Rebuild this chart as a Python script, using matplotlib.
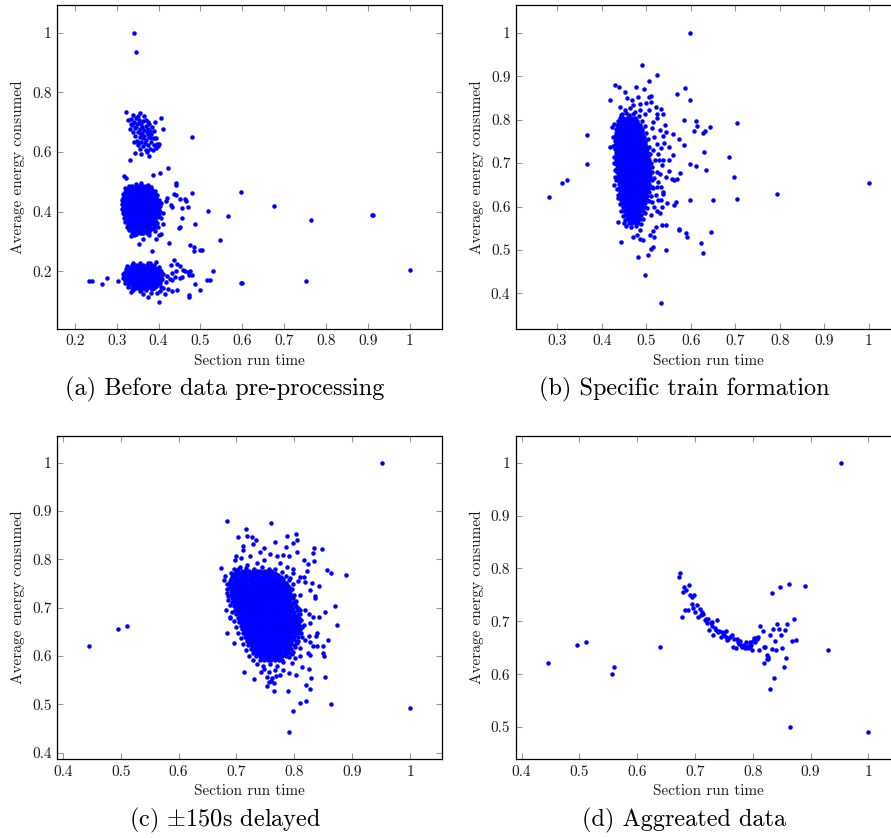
import matplotlib
matplotlib.use("Agg")
import matplotlib.pyplot as plt
from matplotlib.ticker import FixedLocator, FuncFormatter

plt.rcParams['font.family'] = 'cmr10'
plt.rcParams['mathtext.fontset'] = 'cm'
plt.rcParams['axes.unicode_minus'] = False

# (section run time, average energy consumed) -- normalised values

# (a) before data pre-processing: scattered points
pts_a = [
    (0.341, 1.000), (0.347, 0.935), (0.480, 0.650),
    # upper cluster
    (0.323, 0.733), (0.340, 0.726), (0.350, 0.722), (0.356, 0.731), (0.365, 0.720),
    (0.347, 0.713), (0.334, 0.711), (0.326, 0.706), (0.342, 0.702), (0.353, 0.706),
    (0.363, 0.704), (0.375, 0.700), (0.391, 0.702), (0.406, 0.713), (0.337, 0.691),
    (0.348, 0.693), (0.359, 0.695), (0.369, 0.688), (0.378, 0.693), (0.385, 0.684),
    (0.332, 0.679), (0.343, 0.682), (0.355, 0.679), (0.366, 0.675), (0.375, 0.677),
    (0.388, 0.670), (0.410, 0.679), (0.339, 0.666), (0.350, 0.668), (0.361, 0.664),
    (0.372, 0.666), (0.383, 0.662), (0.390, 0.648), (0.343, 0.653), (0.355, 0.650),
    (0.366, 0.653), (0.377, 0.650), (0.394, 0.646), (0.348, 0.637), (0.359, 0.635),
    (0.371, 0.639), (0.382, 0.635), (0.351, 0.624), (0.364, 0.621), (0.375, 0.624),
    (0.388, 0.624), (0.402, 0.626), (0.356, 0.610), (0.369, 0.608), (0.380, 0.612),
    (0.393, 0.615), (0.359, 0.595), (0.372, 0.599), (0.377, 0.588), (0.350, 0.630),
    (0.367, 0.630), (0.383, 0.648), (0.342, 0.635), (0.358, 0.659), (0.374, 0.659),
    (0.335, 0.695), (0.347, 0.684), (0.353, 0.697), (0.361, 0.684), (0.370, 0.706),
    (0.380, 0.670), (0.396, 0.626), (0.363, 0.646), (0.386, 0.608), (0.343, 0.597),
    (0.331, 0.572), (0.398, 0.619),
    # middle cluster fringe
    (0.423, 0.548), (0.403, 0.531), (0.386, 0.523), (0.318, 0.521), (0.321, 0.512),
    (0.441, 0.496), (0.441, 0.489), (0.480, 0.463), (0.597, 0.466), (0.436, 0.458),
    (0.441, 0.456), (0.452, 0.443), (0.463, 0.443), (0.421, 0.445), (0.407, 0.428),
    (0.417, 0.435), (0.429, 0.424), (0.433, 0.417), (0.457, 0.411), (0.471, 0.415),
    (0.465, 0.436), (0.519, 0.402), (0.567, 0.387), (0.411, 0.395), (0.406, 0.378),
    (0.411, 0.359), (0.399, 0.350), (0.457, 0.380), (0.452, 0.348), (0.449, 0.345),
    (0.488, 0.358), (0.547, 0.305), (0.407, 0.327), (0.401, 0.321), (0.393, 0.308),
    (0.378, 0.322), (0.364, 0.308), (0.353, 0.291), (0.385, 0.268), (0.425, 0.294),
    (0.476, 0.289), (0.484, 0.283), (0.485, 0.268), (0.503, 0.272), (0.335, 0.319),
    (0.342, 0.323), (0.347, 0.325), (0.391, 0.336), (0.396, 0.361), (0.388, 0.344),
    (0.312, 0.440), (0.313, 0.425), (0.313, 0.410), (0.316, 0.395), (0.318, 0.380),
    (0.320, 0.366), (0.324, 0.350), (0.329, 0.338), (0.345, 0.325), (0.360, 0.330),
    (0.378, 0.333), (0.388, 0.348), (0.395, 0.366), (0.400, 0.385), (0.403, 0.400),
    (0.404, 0.420), (0.401, 0.440), (0.397, 0.455), (0.392, 0.470), (0.383, 0.482),
    (0.375, 0.490), (0.358, 0.495), (0.345, 0.494), (0.330, 0.485), (0.320, 0.478),
    (0.676, 0.420), (0.765, 0.373), (0.909, 0.389), (0.912, 0.389), (1.000, 0.206),
    (0.752, 0.168), (0.597, 0.161), (0.599, 0.160), (0.500, 0.271),
    # lower cluster fringe
    (0.234, 0.168), (0.241, 0.169), (0.264, 0.158), (0.276, 0.179), (0.302, 0.168),
    (0.334, 0.132), (0.359, 0.138), (0.374, 0.113), (0.401, 0.097), (0.363, 0.124),
    (0.383, 0.126), (0.394, 0.231), (0.380, 0.229), (0.436, 0.237), (0.443, 0.225),
    (0.452, 0.218), (0.429, 0.220), (0.433, 0.196), (0.441, 0.202), (0.459, 0.205),
    (0.464, 0.202), (0.471, 0.198), (0.476, 0.200), (0.479, 0.189), (0.472, 0.187),
    (0.457, 0.180), (0.451, 0.178), (0.439, 0.180), (0.433, 0.171), (0.428, 0.176),
    (0.420, 0.185), (0.417, 0.166), (0.407, 0.149), (0.411, 0.143), (0.423, 0.140),
    (0.431, 0.135), (0.444, 0.138), (0.472, 0.122), (0.472, 0.115), (0.488, 0.158),
    (0.500, 0.138), (0.515, 0.171), (0.523, 0.171), (0.530, 0.202), (0.404, 0.135),
    (0.396, 0.126), (0.415, 0.124),
    (0.316, 0.190), (0.316, 0.178), (0.319, 0.162), (0.326, 0.148), (0.340, 0.138),
    (0.355, 0.135), (0.370, 0.137), (0.385, 0.140), (0.395, 0.150), (0.403, 0.160),
    (0.409, 0.175), (0.411, 0.190), (0.407, 0.203), (0.400, 0.215), (0.390, 0.222),
    (0.375, 0.228), (0.355, 0.229), (0.340, 0.228), (0.325, 0.218),
]

# (a) dense cores: (energy, [run times])
core_a = [
    (0.485, [0.336, 0.345, 0.354, 0.363, 0.370]),
    (0.478, [0.327, 0.336, 0.345, 0.354, 0.363, 0.372, 0.380]),
    (0.472, [0.322, 0.331, 0.340, 0.349, 0.358, 0.367, 0.376, 0.385]),
    (0.465, [0.320, 0.329, 0.338, 0.347, 0.356, 0.365, 0.374, 0.383, 0.388]),
    (0.459, [0.316, 0.325, 0.334, 0.343, 0.352, 0.361, 0.370, 0.379, 0.388, 0.392]),
    (0.452, [0.317, 0.326, 0.335, 0.344, 0.353, 0.362, 0.371, 0.380, 0.389]),
    (0.446, [0.314, 0.322, 0.331, 0.340, 0.349, 0.358, 0.367, 0.376, 0.385, 0.394]),
    (0.439, [0.318, 0.327, 0.336, 0.345, 0.354, 0.363, 0.372, 0.381, 0.390, 0.396]),
    (0.433, [0.314, 0.323, 0.332, 0.341, 0.350, 0.359, 0.368, 0.377, 0.386, 0.395, 0.398]),
    (0.426, [0.319, 0.328, 0.337, 0.346, 0.355, 0.364, 0.373, 0.382, 0.391, 0.398]),
    (0.420, [0.315, 0.324, 0.333, 0.342, 0.351, 0.360, 0.369, 0.378, 0.387, 0.396, 0.400]),
    (0.413, [0.320, 0.329, 0.338, 0.347, 0.356, 0.365, 0.374, 0.383, 0.392, 0.398]),
    (0.407, [0.316, 0.325, 0.334, 0.343, 0.352, 0.361, 0.370, 0.379, 0.388, 0.397, 0.400]),
    (0.400, [0.321, 0.330, 0.339, 0.348, 0.357, 0.366, 0.375, 0.384, 0.393, 0.398]),
    (0.394, [0.318, 0.327, 0.336, 0.345, 0.354, 0.363, 0.372, 0.381, 0.390, 0.398]),
    (0.387, [0.323, 0.332, 0.341, 0.350, 0.359, 0.368, 0.377, 0.386, 0.394]),
    (0.381, [0.320, 0.329, 0.338, 0.347, 0.356, 0.365, 0.374, 0.383, 0.392, 0.396]),
    (0.374, [0.326, 0.335, 0.344, 0.353, 0.362, 0.371, 0.380, 0.389]),
    (0.368, [0.323, 0.332, 0.341, 0.350, 0.359, 0.368, 0.377, 0.386, 0.392]),
    (0.361, [0.329, 0.338, 0.347, 0.356, 0.365, 0.374, 0.383, 0.388]),
    (0.355, [0.326, 0.335, 0.344, 0.353, 0.362, 0.371, 0.380, 0.388]),
    (0.348, [0.333, 0.342, 0.351, 0.360, 0.369, 0.378]),
    (0.342, [0.330, 0.339, 0.348, 0.357, 0.366, 0.375, 0.382]),
    (0.336, [0.340, 0.349, 0.358, 0.367, 0.375]),
    (0.330, [0.337, 0.346, 0.355, 0.364, 0.372]),
    (0.222, [0.336, 0.345, 0.354, 0.363, 0.372, 0.381]),
    (0.215, [0.328, 0.337, 0.346, 0.355, 0.364, 0.373, 0.382, 0.390]),
    (0.209, [0.322, 0.331, 0.340, 0.349, 0.358, 0.367, 0.376, 0.385, 0.394, 0.400]),
    (0.202, [0.322, 0.331, 0.340, 0.349, 0.358, 0.367, 0.376, 0.385, 0.394, 0.402]),
    (0.196, [0.318, 0.327, 0.336, 0.345, 0.354, 0.363, 0.372, 0.381, 0.390, 0.399, 0.405]),
    (0.189, [0.322, 0.331, 0.340, 0.349, 0.358, 0.367, 0.376, 0.385, 0.394, 0.403]),
    (0.183, [0.318, 0.326, 0.335, 0.344, 0.353, 0.362, 0.371, 0.380, 0.389, 0.398, 0.407]),
    (0.176, [0.324, 0.333, 0.342, 0.351, 0.360, 0.369, 0.378, 0.387, 0.396, 0.403]),
    (0.170, [0.320, 0.329, 0.338, 0.347, 0.356, 0.365, 0.374, 0.383, 0.392, 0.401, 0.405]),
    (0.163, [0.330, 0.339, 0.348, 0.357, 0.366, 0.375, 0.384, 0.393, 0.400]),
    (0.157, [0.326, 0.335, 0.344, 0.353, 0.362, 0.371, 0.380, 0.389, 0.398]),
    (0.150, [0.340, 0.349, 0.358, 0.367, 0.376, 0.385, 0.393]),
    (0.144, [0.336, 0.345, 0.354, 0.363, 0.372, 0.381, 0.389]),
]

# (b) specific train formation
pts_b = [
    (0.490, 0.925), (0.525, 0.903), (0.430, 0.880), (0.438, 0.876), (0.477, 0.875),
    (0.495, 0.871), (0.506, 0.889), (0.570, 0.858), (0.419, 0.846), (0.451, 0.864),
    (0.456, 0.850), (0.467, 0.845), (0.482, 0.853), (0.505, 0.853), (0.510, 0.854),
    (0.499, 0.839), (0.511, 0.840), (0.522, 0.830), (0.533, 0.824), (0.486, 0.837),
    (0.523, 0.814), (0.538, 0.812), (0.524, 0.803), (0.541, 0.787), (0.531, 0.776),
    (0.544, 0.771), (0.559, 0.768), (0.537, 0.762), (0.540, 0.747), (0.550, 0.736),
    (0.559, 0.718), (0.574, 0.755), (0.550, 0.707), (0.538, 0.707), (0.535, 0.695),
    (0.550, 0.682), (0.557, 0.664), (0.562, 0.661), (0.544, 0.669), (0.534, 0.646),
    (0.538, 0.634), (0.537, 0.629), (0.534, 0.615), (0.546, 0.607), (0.536, 0.599),
    (0.523, 0.590), (0.531, 0.586), (0.535, 0.557), (0.544, 0.557), (0.510, 0.580),
    (0.522, 0.553), (0.516, 0.543), (0.508, 0.534), (0.517, 0.530), (0.486, 0.546),
    (0.478, 0.534), (0.469, 0.530), (0.486, 0.525), (0.493, 0.523), (0.443, 0.519),
    (0.481, 0.483), (0.503, 0.488), (0.510, 0.503), (0.516, 0.507), (0.544, 0.500),
    (0.496, 0.442), (0.533, 0.379), (0.418, 0.736), (0.423, 0.784), (0.429, 0.669),
    (0.428, 0.649), (0.437, 0.627), (0.436, 0.565), (0.450, 0.562), (0.367, 0.764),
    (0.367, 0.698), (0.311, 0.655), (0.321, 0.662), (0.281, 0.622), (0.568, 0.663),
    (0.562, 0.604), (0.567, 0.611), (0.573, 0.548), (0.576, 0.678),
    (0.512, 0.780), (0.517, 0.761), (0.523, 0.745), (0.514, 0.730), (0.527, 0.722),
    (0.520, 0.707), (0.512, 0.691), (0.523, 0.680), (0.517, 0.665), (0.527, 0.657),
    (0.514, 0.642), (0.522, 0.626), (0.512, 0.611), (0.517, 0.599), (0.527, 0.615),
    (0.523, 0.646), (0.531, 0.676), (0.529, 0.707), (0.533, 0.734), (0.516, 0.795),
    (0.441, 0.830), (0.452, 0.822), (0.463, 0.826), (0.475, 0.818), (0.486, 0.822),
    (0.497, 0.814), (0.460, 0.810), (0.471, 0.833), (0.445, 0.814), (0.505, 0.822),
    (0.427, 0.790), (0.426, 0.760), (0.425, 0.740), (0.427, 0.715), (0.428, 0.700),
    (0.429, 0.685), (0.432, 0.660), (0.434, 0.640), (0.437, 0.620), (0.440, 0.605),
    (0.444, 0.590), (0.447, 0.578), (0.451, 0.568), (0.455, 0.556), (0.466, 0.553),
    (0.476, 0.556), (0.488, 0.560), (0.492, 0.572), (0.497, 0.585), (0.502, 0.596),
    (0.506, 0.612), (0.510, 0.625), (0.512, 0.645), (0.513, 0.660), (0.513, 0.680),
    (0.511, 0.700), (0.509, 0.720), (0.506, 0.738), (0.503, 0.755), (0.500, 0.770),
    (0.496, 0.785), (0.490, 0.798), (0.483, 0.808), (0.470, 0.814), (0.455, 0.815),
    (0.444, 0.810),
    (0.599, 1.000), (0.588, 0.873), (0.598, 0.846), (0.584, 0.800), (0.611, 0.797),
    (0.613, 0.786), (0.608, 0.775), (0.643, 0.784), (0.632, 0.774), (0.627, 0.769),
    (0.704, 0.792), (0.585, 0.741), (0.630, 0.725), (0.686, 0.713), (0.598, 0.699),
    (0.611, 0.694), (0.634, 0.685), (0.697, 0.667), (0.793, 0.628), (1.000, 0.655),
    (0.704, 0.617), (0.598, 0.615), (0.649, 0.615), (0.574, 0.547), (0.589, 0.540),
    (0.591, 0.529), (0.645, 0.541), (0.622, 0.516), (0.628, 0.492),
]

core_b = [
    (0.805, [0.440, 0.448, 0.457, 0.465, 0.474]),
    (0.800, [0.441, 0.450, 0.458, 0.467, 0.476]),
    (0.796, [0.437, 0.445, 0.454, 0.462, 0.471, 0.480]),
    (0.791, [0.438, 0.447, 0.455, 0.464, 0.472, 0.481]),
    (0.787, [0.434, 0.442, 0.451, 0.459, 0.468, 0.476, 0.485]),
    (0.782, [0.436, 0.444, 0.453, 0.461, 0.470, 0.479, 0.486]),
    (0.778, [0.432, 0.440, 0.449, 0.457, 0.466, 0.474, 0.483, 0.490]),
    (0.773, [0.434, 0.443, 0.451, 0.460, 0.468, 0.477, 0.485, 0.490]),
    (0.769, [0.431, 0.439, 0.447, 0.456, 0.464, 0.473, 0.481, 0.490]),
    (0.764, [0.433, 0.442, 0.450, 0.459, 0.467, 0.476, 0.484, 0.491]),
    (0.760, [0.430, 0.438, 0.446, 0.455, 0.463, 0.472, 0.480, 0.489, 0.495]),
    (0.755, [0.433, 0.441, 0.450, 0.458, 0.467, 0.475, 0.484, 0.492]),
    (0.751, [0.430, 0.437, 0.445, 0.454, 0.462, 0.471, 0.479, 0.488, 0.496]),
    (0.746, [0.433, 0.441, 0.450, 0.458, 0.467, 0.475, 0.484, 0.492, 0.496]),
    (0.742, [0.430, 0.438, 0.447, 0.455, 0.464, 0.472, 0.481, 0.489, 0.498]),
    (0.737, [0.433, 0.442, 0.450, 0.459, 0.467, 0.476, 0.484, 0.493, 0.499]),
    (0.733, [0.430, 0.437, 0.446, 0.454, 0.463, 0.471, 0.480, 0.488, 0.497, 0.501]),
    (0.728, [0.434, 0.443, 0.451, 0.460, 0.468, 0.477, 0.485, 0.494, 0.500]),
    (0.724, [0.431, 0.439, 0.448, 0.456, 0.465, 0.473, 0.482, 0.490, 0.499, 0.503]),
    (0.719, [0.434, 0.443, 0.451, 0.460, 0.468, 0.477, 0.485, 0.494, 0.501]),
    (0.715, [0.431, 0.438, 0.447, 0.455, 0.464, 0.472, 0.481, 0.489, 0.498, 0.504]),
    (0.710, [0.435, 0.444, 0.452, 0.461, 0.469, 0.478, 0.486, 0.495, 0.502]),
    (0.706, [0.432, 0.440, 0.449, 0.457, 0.466, 0.474, 0.483, 0.491, 0.500, 0.505]),
    (0.701, [0.436, 0.445, 0.453, 0.462, 0.470, 0.479, 0.487, 0.496, 0.503]),
    (0.697, [0.433, 0.441, 0.450, 0.458, 0.467, 0.475, 0.484, 0.492, 0.501, 0.506]),
    (0.692, [0.437, 0.446, 0.454, 0.463, 0.471, 0.480, 0.488, 0.497, 0.504]),
    (0.688, [0.434, 0.442, 0.451, 0.459, 0.468, 0.476, 0.485, 0.493, 0.502, 0.507]),
    (0.683, [0.438, 0.447, 0.455, 0.464, 0.472, 0.481, 0.489, 0.498, 0.505]),
    (0.679, [0.435, 0.443, 0.452, 0.460, 0.469, 0.477, 0.486, 0.494, 0.503, 0.508]),
    (0.674, [0.439, 0.448, 0.456, 0.465, 0.473, 0.482, 0.490, 0.499, 0.505]),
    (0.670, [0.436, 0.444, 0.453, 0.461, 0.470, 0.478, 0.487, 0.495, 0.504, 0.508]),
    (0.665, [0.440, 0.449, 0.457, 0.466, 0.474, 0.483, 0.491, 0.500, 0.505]),
    (0.661, [0.437, 0.445, 0.454, 0.462, 0.471, 0.479, 0.488, 0.496, 0.505]),
    (0.656, [0.441, 0.450, 0.458, 0.467, 0.475, 0.484, 0.492, 0.501]),
    (0.652, [0.438, 0.446, 0.455, 0.463, 0.472, 0.480, 0.489, 0.497, 0.506]),
    (0.647, [0.442, 0.451, 0.459, 0.468, 0.476, 0.485, 0.493, 0.501]),
    (0.643, [0.439, 0.447, 0.456, 0.464, 0.473, 0.481, 0.490, 0.498, 0.506]),
    (0.638, [0.443, 0.452, 0.460, 0.469, 0.477, 0.486, 0.494, 0.501]),
    (0.634, [0.440, 0.448, 0.457, 0.465, 0.474, 0.482, 0.491, 0.499, 0.505]),
    (0.629, [0.445, 0.454, 0.462, 0.471, 0.479, 0.488, 0.496]),
    (0.625, [0.442, 0.450, 0.459, 0.467, 0.476, 0.484, 0.493, 0.501]),
    (0.620, [0.447, 0.456, 0.464, 0.473, 0.481, 0.490, 0.497]),
    (0.616, [0.444, 0.452, 0.461, 0.469, 0.478, 0.486, 0.495, 0.501]),
    (0.611, [0.449, 0.458, 0.466, 0.475, 0.483, 0.492]),
    (0.607, [0.446, 0.454, 0.463, 0.471, 0.480, 0.488, 0.497]),
    (0.602, [0.451, 0.460, 0.468, 0.477, 0.485, 0.492]),
    (0.598, [0.448, 0.456, 0.465, 0.473, 0.482, 0.490, 0.496]),
    (0.593, [0.453, 0.462, 0.470, 0.479, 0.488]),
    (0.589, [0.450, 0.458, 0.467, 0.475, 0.484, 0.493]),
    (0.584, [0.456, 0.465, 0.473, 0.482]),
    (0.580, [0.453, 0.461, 0.470, 0.478, 0.487]),
    (0.575, [0.459, 0.468, 0.476, 0.483]),
    (0.571, [0.456, 0.464, 0.473, 0.481, 0.486]),
    (0.566, [0.463, 0.472, 0.479]),
    (0.562, [0.460, 0.468, 0.476, 0.482]),
]

# (c) +-150 s delayed
pts_c = [
    (0.446, 0.621), (0.496, 0.655), (0.511, 0.661), (0.952, 1.000), (1.000, 0.492),
    (0.684, 0.879), (0.717, 0.863), (0.760, 0.875), (0.702, 0.846), (0.719, 0.849),
    (0.727, 0.846), (0.734, 0.840), (0.788, 0.848), (0.803, 0.852), (0.805, 0.839),
    (0.767, 0.836), (0.711, 0.828), (0.729, 0.831), (0.747, 0.824), (0.786, 0.825),
    (0.797, 0.833), (0.834, 0.824), (0.847, 0.822), (0.804, 0.816), (0.780, 0.810),
    (0.790, 0.806), (0.816, 0.799), (0.833, 0.814), (0.834, 0.797), (0.673, 0.783),
    (0.680, 0.766), (0.679, 0.757), (0.699, 0.807), (0.698, 0.799), (0.708, 0.802),
    (0.856, 0.777), (0.863, 0.771), (0.890, 0.767), (0.824, 0.790), (0.822, 0.775),
    (0.816, 0.764), (0.810, 0.763), (0.807, 0.755), (0.819, 0.754), (0.830, 0.752),
    (0.827, 0.737), (0.843, 0.745), (0.836, 0.724), (0.835, 0.719), (0.809, 0.726),
    (0.870, 0.703), (0.853, 0.690), (0.842, 0.680), (0.833, 0.681), (0.825, 0.686),
    (0.827, 0.668), (0.839, 0.647), (0.838, 0.641), (0.826, 0.641), (0.818, 0.632),
    (0.827, 0.628), (0.833, 0.621), (0.839, 0.621), (0.850, 0.621), (0.858, 0.632),
    (0.849, 0.607), (0.851, 0.599), (0.824, 0.606), (0.827, 0.602), (0.810, 0.599),
    (0.801, 0.595), (0.796, 0.585), (0.813, 0.578), (0.825, 0.574), (0.802, 0.561),
    (0.790, 0.564), (0.781, 0.571), (0.775, 0.561), (0.769, 0.559), (0.760, 0.549),
    (0.764, 0.543), (0.756, 0.546), (0.752, 0.537), (0.765, 0.528), (0.789, 0.528),
    (0.820, 0.539), (0.827, 0.531), (0.853, 0.557), (0.828, 0.554), (0.731, 0.552),
    (0.713, 0.566), (0.695, 0.626), (0.684, 0.648), (0.874, 0.665), (0.798, 0.487),
    (0.809, 0.503), (0.820, 0.507), (0.864, 0.501), (0.790, 0.442), (0.689, 0.743),
    (0.683, 0.730), (0.686, 0.716), (0.688, 0.681), (0.689, 0.678), (0.682, 0.695),
    (0.712, 0.819), (0.741, 0.816), (0.758, 0.812), (0.770, 0.806), (0.724, 0.806),
    (0.747, 0.799), (0.735, 0.792), (0.775, 0.792), (0.787, 0.785), (0.798, 0.781),
    (0.718, 0.788), (0.706, 0.785), (0.798, 0.771), (0.793, 0.761),
    (0.801, 0.709), (0.810, 0.695), (0.805, 0.675), (0.816, 0.664), (0.807, 0.654),
    (0.813, 0.640), (0.804, 0.626), (0.810, 0.616), (0.798, 0.609), (0.819, 0.695),
    (0.695, 0.781), (0.703, 0.779), (0.716, 0.782), (0.731, 0.780), (0.744, 0.784),
    (0.756, 0.779), (0.766, 0.781), (0.690, 0.772), (0.778, 0.773), (0.785, 0.765),
    (0.791, 0.757), (0.797, 0.748), (0.683, 0.748), (0.684, 0.739), (0.686, 0.724),
    (0.688, 0.706), (0.692, 0.690), (0.696, 0.672), (0.700, 0.660), (0.703, 0.648),
    (0.707, 0.637), (0.711, 0.624), (0.716, 0.612), (0.722, 0.600), (0.728, 0.592),
    (0.736, 0.584), (0.746, 0.580), (0.758, 0.583), (0.770, 0.580), (0.781, 0.587),
    (0.790, 0.597), (0.796, 0.603), (0.801, 0.618), (0.806, 0.630), (0.811, 0.647),
    (0.813, 0.660), (0.812, 0.675), (0.809, 0.686), (0.806, 0.700), (0.803, 0.713),
    (0.799, 0.726), (0.796, 0.738), (0.748, 0.572), (0.757, 0.567), (0.766, 0.571),
    (0.752, 0.557), (0.761, 0.555), (0.742, 0.566),
]

core_c = [
    (0.775, [0.701, 0.709, 0.714, 0.722, 0.728, 0.735, 0.741, 0.748, 0.753, 0.760]),
    (0.771, [0.697, 0.704, 0.710, 0.717, 0.723, 0.730, 0.736, 0.743, 0.749, 0.756, 0.762, 0.767]),
    (0.767, [0.694, 0.699, 0.706, 0.713, 0.719, 0.725, 0.732, 0.738, 0.745, 0.751, 0.758, 0.764, 0.771]),
    (0.763, [0.692, 0.700, 0.707, 0.713, 0.719, 0.726, 0.732, 0.739, 0.745, 0.752, 0.758, 0.764, 0.771, 0.777]),
    (0.759, [0.690, 0.697, 0.703, 0.710, 0.716, 0.722, 0.729, 0.735, 0.742, 0.748, 0.755, 0.761, 0.767, 0.774, 0.780]),
    (0.755, [0.689, 0.697, 0.704, 0.710, 0.717, 0.723, 0.729, 0.736, 0.742, 0.749, 0.755, 0.761, 0.768, 0.774, 0.781]),
    (0.751, [0.688, 0.694, 0.700, 0.707, 0.713, 0.719, 0.726, 0.732, 0.739, 0.745, 0.751, 0.758, 0.764, 0.771, 0.778, 0.785]),
    (0.747, [0.691, 0.697, 0.704, 0.710, 0.717, 0.723, 0.730, 0.736, 0.743, 0.749, 0.755, 0.762, 0.768, 0.775, 0.781, 0.787]),
    (0.743, [0.688, 0.695, 0.702, 0.708, 0.714, 0.721, 0.727, 0.734, 0.740, 0.746, 0.753, 0.759, 0.766, 0.772, 0.779, 0.785, 0.790]),
    (0.739, [0.692, 0.699, 0.705, 0.712, 0.718, 0.724, 0.731, 0.737, 0.744, 0.750, 0.757, 0.763, 0.769, 0.776, 0.782, 0.789]),
    (0.735, [0.690, 0.697, 0.703, 0.709, 0.716, 0.722, 0.729, 0.735, 0.741, 0.748, 0.754, 0.761, 0.767, 0.773, 0.780, 0.786, 0.792]),
    (0.731, [0.693, 0.699, 0.706, 0.712, 0.719, 0.725, 0.731, 0.738, 0.744, 0.751, 0.757, 0.763, 0.770, 0.776, 0.783, 0.790]),
    (0.727, [0.690, 0.696, 0.702, 0.709, 0.715, 0.722, 0.728, 0.734, 0.741, 0.747, 0.754, 0.760, 0.766, 0.773, 0.779, 0.786, 0.795]),
    (0.723, [0.694, 0.701, 0.707, 0.714, 0.720, 0.727, 0.733, 0.740, 0.746, 0.752, 0.759, 0.765, 0.772, 0.778, 0.784, 0.791]),
    (0.719, [0.692, 0.698, 0.705, 0.711, 0.717, 0.724, 0.730, 0.737, 0.743, 0.749, 0.756, 0.762, 0.769, 0.775, 0.781, 0.788, 0.797]),
    (0.715, [0.695, 0.702, 0.708, 0.715, 0.721, 0.728, 0.734, 0.740, 0.747, 0.753, 0.760, 0.766, 0.773, 0.779, 0.786, 0.793]),
    (0.711, [0.693, 0.700, 0.706, 0.712, 0.719, 0.725, 0.732, 0.738, 0.744, 0.751, 0.757, 0.764, 0.770, 0.776, 0.783, 0.790, 0.800]),
    (0.707, [0.697, 0.704, 0.710, 0.717, 0.723, 0.729, 0.736, 0.742, 0.749, 0.755, 0.762, 0.768, 0.774, 0.781, 0.788, 0.796]),
    (0.703, [0.695, 0.702, 0.708, 0.714, 0.721, 0.727, 0.733, 0.740, 0.746, 0.753, 0.759, 0.765, 0.772, 0.778, 0.785, 0.792, 0.802]),
    (0.699, [0.699, 0.706, 0.712, 0.718, 0.725, 0.731, 0.738, 0.744, 0.750, 0.757, 0.763, 0.770, 0.776, 0.782, 0.789, 0.798]),
    (0.695, [0.697, 0.703, 0.710, 0.716, 0.723, 0.729, 0.735, 0.742, 0.748, 0.754, 0.761, 0.767, 0.774, 0.780, 0.787, 0.795, 0.805]),
    (0.691, [0.701, 0.708, 0.714, 0.721, 0.727, 0.734, 0.740, 0.746, 0.753, 0.759, 0.766, 0.772, 0.778, 0.785, 0.792, 0.800]),
    (0.687, [0.700, 0.706, 0.712, 0.719, 0.725, 0.731, 0.738, 0.744, 0.751, 0.757, 0.763, 0.770, 0.776, 0.783, 0.789, 0.797, 0.806]),
    (0.683, [0.704, 0.710, 0.717, 0.723, 0.729, 0.736, 0.742, 0.749, 0.755, 0.761, 0.768, 0.774, 0.781, 0.787, 0.794, 0.802]),
    (0.679, [0.702, 0.709, 0.715, 0.721, 0.728, 0.734, 0.741, 0.747, 0.753, 0.760, 0.766, 0.773, 0.779, 0.785, 0.792, 0.800, 0.808]),
    (0.675, [0.706, 0.713, 0.719, 0.726, 0.732, 0.738, 0.745, 0.751, 0.758, 0.764, 0.771, 0.777, 0.783, 0.790, 0.797, 0.804]),
    (0.671, [0.705, 0.711, 0.718, 0.724, 0.731, 0.737, 0.743, 0.750, 0.756, 0.763, 0.769, 0.775, 0.782, 0.788, 0.795, 0.802, 0.808]),
    (0.667, [0.709, 0.716, 0.722, 0.728, 0.735, 0.741, 0.748, 0.754, 0.761, 0.767, 0.773, 0.780, 0.786, 0.793, 0.800, 0.806]),
    (0.663, [0.708, 0.714, 0.721, 0.727, 0.733, 0.740, 0.746, 0.752, 0.759, 0.765, 0.772, 0.778, 0.784, 0.791, 0.797, 0.804, 0.810]),
    (0.659, [0.712, 0.718, 0.725, 0.731, 0.738, 0.744, 0.751, 0.757, 0.763, 0.770, 0.776, 0.783, 0.789, 0.796, 0.802, 0.807]),
    (0.655, [0.710, 0.716, 0.723, 0.729, 0.736, 0.742, 0.748, 0.755, 0.761, 0.768, 0.774, 0.780, 0.787, 0.793, 0.800, 0.806, 0.810]),
    (0.651, [0.714, 0.721, 0.727, 0.733, 0.740, 0.746, 0.753, 0.759, 0.766, 0.772, 0.778, 0.785, 0.791, 0.798, 0.804]),
    (0.647, [0.712, 0.719, 0.725, 0.731, 0.738, 0.744, 0.751, 0.757, 0.763, 0.770, 0.776, 0.783, 0.789, 0.795, 0.802, 0.808]),
    (0.643, [0.717, 0.723, 0.730, 0.736, 0.742, 0.749, 0.755, 0.762, 0.768, 0.775, 0.781, 0.787, 0.794, 0.801]),
    (0.639, [0.715, 0.721, 0.728, 0.734, 0.741, 0.747, 0.753, 0.760, 0.766, 0.772, 0.779, 0.785, 0.792, 0.799, 0.806]),
    (0.635, [0.719, 0.726, 0.732, 0.739, 0.745, 0.752, 0.758, 0.764, 0.771, 0.777, 0.784, 0.790, 0.797]),
    (0.631, [0.718, 0.724, 0.731, 0.737, 0.743, 0.750, 0.756, 0.763, 0.769, 0.775, 0.782, 0.788, 0.795, 0.803]),
    (0.627, [0.722, 0.729, 0.735, 0.742, 0.748, 0.755, 0.761, 0.767, 0.774, 0.780, 0.787, 0.794]),
    (0.623, [0.720, 0.727, 0.733, 0.740, 0.746, 0.752, 0.759, 0.765, 0.772, 0.778, 0.785, 0.792, 0.800]),
    (0.619, [0.726, 0.733, 0.739, 0.746, 0.752, 0.759, 0.765, 0.772, 0.778, 0.784, 0.791]),
    (0.615, [0.725, 0.731, 0.738, 0.744, 0.750, 0.757, 0.763, 0.770, 0.776, 0.783, 0.789, 0.795]),
    (0.611, [0.730, 0.737, 0.743, 0.750, 0.756, 0.763, 0.769, 0.776, 0.782, 0.787]),
    (0.607, [0.728, 0.735, 0.741, 0.748, 0.754, 0.761, 0.767, 0.774, 0.780, 0.786, 0.790]),
    (0.603, [0.735, 0.742, 0.748, 0.755, 0.761, 0.768, 0.774, 0.780]),
    (0.599, [0.733, 0.740, 0.746, 0.753, 0.759, 0.766, 0.772, 0.779, 0.785]),
    (0.595, [0.742, 0.749, 0.756, 0.762, 0.768, 0.774]),
    (0.591, [0.740, 0.747, 0.754, 0.760, 0.767, 0.773, 0.778]),
]

# (d) aggregated data
pts_d = [
    (0.446, 0.622), (0.496, 0.655), (0.511, 0.661), (0.557, 0.600), (0.560, 0.614),
    (0.640, 0.651), (0.865, 0.500), (1.000, 0.491), (0.952, 1.000),
    (0.674, 0.792), (0.673, 0.784), (0.690, 0.769), (0.681, 0.765), (0.679, 0.756),
    (0.685, 0.759), (0.692, 0.750), (0.698, 0.749), (0.694, 0.746), (0.694, 0.733),
    (0.704, 0.731), (0.697, 0.726), (0.683, 0.722), (0.688, 0.722), (0.708, 0.724),
    (0.700, 0.718), (0.712, 0.717), (0.677, 0.708), (0.705, 0.708), (0.714, 0.713),
    (0.719, 0.705), (0.711, 0.711), (0.722, 0.705), (0.717, 0.702), (0.721, 0.696),
    (0.727, 0.697), (0.730, 0.699), (0.738, 0.702), (0.729, 0.691), (0.724, 0.683),
    (0.734, 0.687), (0.737, 0.683), (0.742, 0.682), (0.746, 0.680), (0.731, 0.675),
    (0.740, 0.679), (0.749, 0.677), (0.754, 0.682), (0.750, 0.674), (0.745, 0.670),
    (0.753, 0.671), (0.757, 0.667), (0.764, 0.674), (0.761, 0.670), (0.768, 0.667),
    (0.756, 0.664), (0.772, 0.666), (0.766, 0.652), (0.774, 0.660), (0.778, 0.663),
    (0.771, 0.650), (0.780, 0.655), (0.784, 0.656), (0.776, 0.658), (0.788, 0.660),
    (0.782, 0.652), (0.787, 0.650), (0.792, 0.653), (0.791, 0.650), (0.795, 0.652),
    (0.797, 0.655), (0.796, 0.660), (0.802, 0.668), (0.801, 0.662), (0.805, 0.669),
    (0.808, 0.666), (0.809, 0.671), (0.804, 0.661), (0.799, 0.646), (0.810, 0.645),
    (0.813, 0.691), (0.817, 0.682), (0.819, 0.652), (0.822, 0.651), (0.824, 0.636),
    (0.826, 0.632), (0.827, 0.629), (0.824, 0.628), (0.820, 0.622), (0.829, 0.675),
    (0.835, 0.685), (0.839, 0.663), (0.842, 0.695), (0.845, 0.685), (0.849, 0.675),
    (0.856, 0.683), (0.859, 0.695), (0.833, 0.647), (0.841, 0.645), (0.851, 0.650),
    (0.854, 0.614), (0.858, 0.631), (0.868, 0.663), (0.871, 0.704), (0.875, 0.665),
    (0.834, 0.754), (0.848, 0.764), (0.863, 0.770), (0.890, 0.767), (0.837, 0.592),
    (0.830, 0.572), (0.930, 0.646),
]

panels = [
    dict(pts=pts_a, core=core_a, rect=[0.0643, 0.6074, 0.4321, 0.3866],
         xlim=(0.158, 1.078), ylim=(0.007, 1.093),
         xticks=[0.2, 0.3, 0.4, 0.5, 0.6, 0.7, 0.8, 0.9, 1.0],
         yticks=[0.2, 0.4, 0.6, 0.8, 1.0],
         caption='(a) Before data pre-processing', cap_xy=(0.2525, 0.5358)),
    dict(pts=pts_b, core=core_b, rect=[0.5791, 0.6074, 0.4318, 0.3866],
         xlim=(0.207, 1.072), ylim=(0.318, 1.064),
         xticks=[0.3, 0.4, 0.5, 0.6, 0.7, 0.8, 0.9, 1.0],
         yticks=[0.4, 0.5, 0.6, 0.7, 0.8, 0.9, 1.0],
         caption='(b) Specific train formation', cap_xy=(0.7677, 0.5358)),
    dict(pts=pts_c, core=core_c, rect=[0.0643, 0.0939, 0.4321, 0.3862],
         xlim=(0.3905, 1.0555), ylim=(0.386, 1.056),
         xticks=[0.4, 0.5, 0.6, 0.7, 0.8, 0.9, 1.0],
         yticks=[0.4, 0.5, 0.6, 0.7, 0.8, 0.9, 1.0],
         caption=r'(c) $\pm$150s delayed', cap_xy=(0.2525, 0.0215)),
    dict(pts=pts_d, core=[], rect=[0.5787, 0.0939, 0.4318, 0.3862],
         xlim=(0.3895, 1.0555), ylim=(0.439, 1.051),
         xticks=[0.4, 0.5, 0.6, 0.7, 0.8, 0.9, 1.0],
         yticks=[0.5, 0.6, 0.7, 0.8, 0.9, 1.0],
         caption='(d) Aggreated data', cap_xy=(0.7677, 0.0215)),
]

fmt = FuncFormatter(lambda v, pos: f'{v:g}')

fig = plt.figure(figsize=(8.91, 8.38), dpi=100)
for p in panels:
    ax = fig.add_axes(p['rect'])
    xs = [x for x, y in p['pts']] + [x for y, row in p['core'] for x in row]
    ys = [y for x, y in p['pts']] + [y for y, row in p['core'] for x in row]
    ax.scatter(xs, ys, s=10.5, c='#0000ff', linewidths=0, zorder=3)
    ax.set_xlim(*p['xlim'])
    ax.set_ylim(*p['ylim'])
    ax.xaxis.set_major_locator(FixedLocator(p['xticks']))
    ax.yaxis.set_major_locator(FixedLocator(p['yticks']))
    ax.xaxis.set_major_formatter(fmt)
    ax.yaxis.set_major_formatter(fmt)
    ax.tick_params(direction='in', top=True, right=True, length=4, width=0.8,
                   color='0.6', labelsize=11, labelcolor='0.1', pad=4)
    for sp in ax.spines.values():
        sp.set_linewidth(0.9)
    ax.set_xlabel('Section run time', fontsize=11, labelpad=4, color='0.1')
    ax.set_ylabel('Average energy consumed', fontsize=11, labelpad=5, color='0.1')
    fig.text(p['cap_xy'][0], p['cap_xy'][1], p['caption'], fontsize=17.5,
             ha='center', va='center')

fig.savefig('out.png', dpi=100)
